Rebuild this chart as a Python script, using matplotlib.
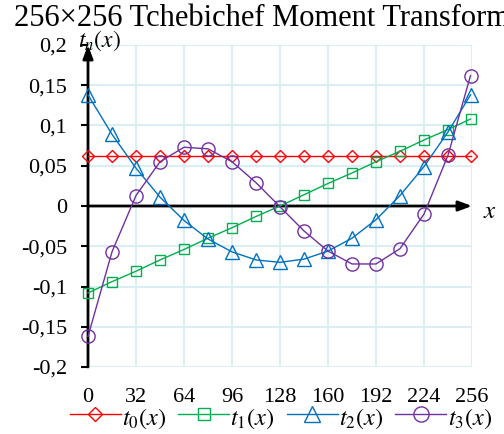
import matplotlib
matplotlib.use("Agg")
import matplotlib.pyplot as plt

plt.rcParams['font.family'] = ['Liberation Serif', 'DejaVu Serif']
plt.rcParams['mathtext.fontset'] = 'stix'

# sample positions and values
x = [0, 16, 32, 48, 64, 80, 96, 112, 128, 144, 160, 176, 192, 208, 224, 240, 255]
t0 = [0.0625] * 17
t1 = [-0.108, -0.094, -0.081, -0.067, -0.054, -0.040, -0.027, -0.013, 0.000,
      0.014, 0.028, 0.041, 0.055, 0.068, 0.082, 0.095, 0.108]
t2 = [0.138, 0.089, 0.047, 0.011, -0.018, -0.041, -0.057, -0.067, -0.070,
      -0.066, -0.056, -0.040, -0.017, 0.013, 0.049, 0.092, 0.138]
t3 = [-0.162, -0.057, 0.013, 0.055, 0.073, 0.071, 0.055, 0.029, -0.001,
      -0.031, -0.056, -0.072, -0.072, -0.053, -0.010, 0.063, 0.162]

xticks = [0, 32, 64, 96, 128, 160, 192, 224, 256]
yticks = [-0.2, -0.15, -0.1, -0.05, 0, 0.05, 0.1, 0.15, 0.2]
ytick_labels = ['-0,2', '-0,15', '-0,1', '-0,05', '0', '0,05', '0,1', '0,15', '0,2']

series = [
    (t0, 'D', '#FF0000', 5.8, r'$t_0(x)$'),
    (t1, 's', '#00B050', 7.4, r'$t_1(x)$'),
    (t2, '^', '#0070C0', 9.8, r'$t_2(x)$'),
    (t3, 'o', '#7030A0', 9.5, r'$t_3(x)$'),
]

fig = plt.figure(figsize=(5.04, 4.34), dpi=100)
ax = fig.add_axes([88 / 504, 1 - 367 / 434, 384 / 504, 322 / 434])

for y, mk, col, ms, lab in series:
    ax.plot(x, y, color=col, lw=1.0, marker=mk, ms=ms, mfc='none',
            mec=col, mew=1.0, label=lab, zorder=3, clip_on=False)

ax.set_xlim(0, 256)
ax.set_ylim(-0.2, 0.2)
ax.set_xticks(xticks)
ax.set_yticks(yticks)
ax.set_yticklabels(ytick_labels)
ax.grid(True, color='#DAEEF3', lw=1.5, zorder=0)
ax.set_axisbelow(True)
for s in ax.spines.values():
    s.set_visible(False)
ax.tick_params(axis='x', length=0, pad=15, labelsize=16)
ax.tick_params(axis='y', direction='out', length=5, width=1.5, pad=10, labelsize=16)

# axes with arrows
ax.annotate('', xy=(256, 0), xytext=(0, 0),
            arrowprops=dict(arrowstyle='-|>,head_length=0.8,head_width=0.3',
                            color='k', lw=2, shrinkA=0, shrinkB=0), zorder=2)
ax.annotate('', xy=(0, 0.2), xytext=(0, -0.2),
            arrowprops=dict(arrowstyle='-|>,head_length=0.8,head_width=0.3',
                            color='k', lw=2, shrinkA=0, shrinkB=0), zorder=2)

fig.text(490 / 504, 1 - 212 / 434, r'$x$', fontsize=18, ha='center', va='center')
fig.text(100 / 504, 1 - 41 / 434, r'$t_n(x)$', fontsize=17, ha='center', va='center')
fig.text(0.52, 1 - 18 / 434, '256×256 Tchebichef Moment Transform',
         fontsize=22, ha='center', va='center')

fig.legend(loc='center', bbox_to_anchor=(0.557, 1 - 417 / 434), ncol=4,
           frameon=False, fontsize=17.5, handlelength=2.1, handletextpad=0.05,
           columnspacing=0.5, borderaxespad=0, markerscale=1.15,
           handleheight=1.3)

fig.savefig('out.png', dpi=100)
